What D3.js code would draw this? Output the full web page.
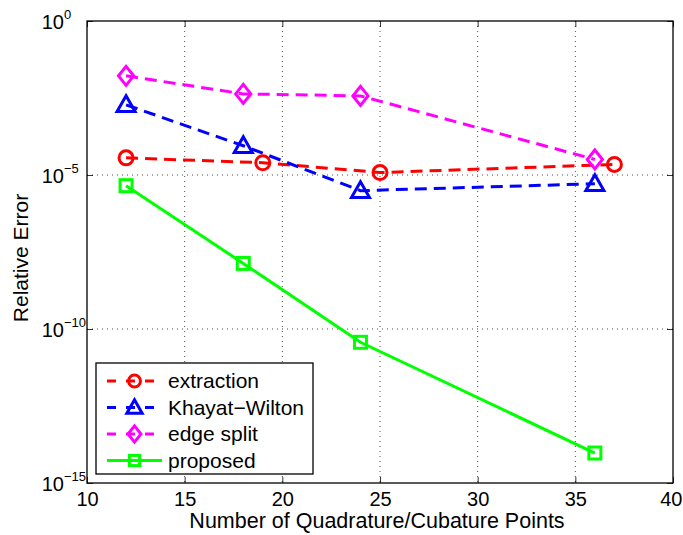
<!DOCTYPE html>
<html><head><meta charset="utf-8">
<script src="https://cdn.jsdelivr.net/npm/d3@7"></script>
<style>body{margin:0;background:#fff}svg{display:block}text{font-family:"Liberation Sans",Arial,sans-serif}</style>
</head><body>
<svg id="c" width="683" height="535"></svg>
<script>
const xExtraction = [12, 19, 25, 37];
const yExtraction = [3.6e-5, 2.5e-5, 1.2e-5, 2.2e-5];
const xKhayat = [12, 18, 24, 36];
const yKhayat = [1.9e-3, 8.9e-5, 3.1e-6, 5.2e-6];
const xEdge = [12, 18, 24, 36];
const yEdge = [1.66e-2, 4.3e-3, 3.7e-3, 3.2e-5];
const xProposed = [12, 18, 24, 36];
const yProposed = [4.5e-6, 1.35e-8, 3.7e-11, 9.4e-15];
const seriesNames = ["extraction", "Khayat\u2212Wilton", "edge split", "proposed"];
const xTicks = [10, 15, 20, 25, 30, 35, 40];
const yTicks = [1e0, 1e-5, 1e-10, 1e-15];
const yTickExp = ["0", "\u22125", "\u221210", "\u221215"];

const L = 87, T = 21, R = 673, B = 483;
const svg = d3.select("#c");
const x = d3.scaleLinear().domain([10, 40]).range([L, R]);
const y = d3.scaleLog().domain([1e-15, 1]).range([B, T]);

// grid
const g = svg.append("g");
xTicks.filter(t => t > 10 && t < 40).forEach(t => {
  g.append("line").attr("x1", x(t)).attr("x2", x(t)).attr("y1", T).attr("y2", B)
    .attr("stroke", "#000").attr("stroke-width", 0.7).attr("stroke-dasharray", "1,4");
});
yTicks.filter(t => t < 1 && t > 1e-15).forEach(t => {
  g.append("line").attr("x1", L).attr("x2", R).attr("y1", y(t)).attr("y2", y(t))
    .attr("stroke", "#000").attr("stroke-width", 0.7).attr("stroke-dasharray", "1,4");
});

// axes (ticks inward)
const xa = svg.append("g").attr("transform", `translate(0,${B})`)
  .call(d3.axisBottom(x).tickValues(xTicks).tickSize(-6).tickFormat(d3.format("d")));
const xa2 = svg.append("g").attr("transform", `translate(0,${T})`)
  .call(d3.axisTop(x).tickValues(xTicks).tickSize(-6).tickFormat(""));
const ya = svg.append("g").attr("transform", `translate(${L},0)`)
  .call(d3.axisLeft(y).tickValues(yTicks).tickSize(-6).tickFormat(""));
const ya2 = svg.append("g").attr("transform", `translate(${R},0)`)
  .call(d3.axisRight(y).tickValues(yTicks).tickSize(-6).tickFormat(""));
[xa, xa2, ya, ya2].forEach(a => {
  a.selectAll(".domain").remove();
  a.selectAll("line").attr("stroke", "#000").attr("stroke-width", 0.8);
});
xa.selectAll("text").attr("font-size", 20).attr("fill", "#000").attr("dy", null).attr("y", 23)
  .filter(d => d === 40).attr("text-anchor", "end").attr("x", 682 - R);
svg.append("rect").attr("x", L).attr("y", T).attr("width", R - L).attr("height", B - T)
  .attr("fill", "none").attr("stroke", "#000").attr("stroke-width", 1.3);

// y tick labels with superscripts
yTicks.forEach((t, i) => {
  svg.append("text").attr("x", 64).attr("y", y(t) + 8)
    .attr("text-anchor", "end").attr("font-size", 20).attr("fill", "#000").text("10");
  svg.append("text").attr("x", 64).attr("y", y(t) - 2)
    .attr("font-size", 13).attr("fill", "#000").text(yTickExp[i]);
});

// labels
svg.append("text").attr("x", (L + R) / 2 - 3).attr("y", 528).attr("text-anchor", "middle")
  .attr("font-size", 21.5).attr("fill", "#000").text("Number of Quadrature/Cubature Points");
svg.append("text").attr("transform", `translate(28,${(T + B) / 2 + 6}) rotate(-90)`)
  .attr("text-anchor", "middle").attr("font-size", 21).attr("fill", "#000").text("Relative Error");

// series
const series = [
  {xs: xExtraction, ys: yExtraction, color: "#ff0000", dash: "12,7", marker: "circle"},
  {xs: xKhayat, ys: yKhayat, color: "#0000ff", dash: "12,7", marker: "triangle"},
  {xs: xEdge, ys: yEdge, color: "#ff00ff", dash: "12,7", marker: "diamond"},
  {xs: xProposed, ys: yProposed, color: "#00ff00", dash: null, marker: "square"}
];
function drawMarker(sel, type, cx, cy, color, s) {
  if (type === "circle") {
    sel.append("circle").attr("cx", cx).attr("cy", cy).attr("r", 7 * s)
      .attr("fill", "none").attr("stroke", color).attr("stroke-width", 3);
  } else if (type === "triangle") {
    const h = 9 * s;
    sel.append("path").attr("d", `M${cx},${cy - h}L${cx + h},${cy + h * 0.75}L${cx - h},${cy + h * 0.75}Z`)
      .attr("fill", "none").attr("stroke", color).attr("stroke-width", 3);
  } else if (type === "diamond") {
    const h = 9.5 * s;
    sel.append("path").attr("d", `M${cx},${cy - h}L${cx + h * 0.8},${cy}L${cx},${cy + h}L${cx - h * 0.8},${cy}Z`)
      .attr("fill", "none").attr("stroke", color).attr("stroke-width", 3);
  } else {
    const h = 6 * s;
    sel.append("rect").attr("x", cx - h).attr("y", cy - h).attr("width", 2 * h).attr("height", 2 * h)
      .attr("fill", "none").attr("stroke", color).attr("stroke-width", 3);
  }
}
const line = d3.line().x(d => x(d[0])).y(d => y(d[1]));
series.forEach(s => {
  const pts = s.xs.map((v, i) => [v, s.ys[i]]);
  svg.append("path").attr("d", line(pts)).attr("fill", "none").attr("stroke", s.color)
    .attr("stroke-width", 3).attr("stroke-dasharray", s.dash);
  pts.forEach(p => drawMarker(svg, s.marker, x(p[0]), y(p[1]), s.color, 1));
});

// legend
const lg = svg.append("g");
lg.append("rect").attr("x", 96).attr("y", 363).attr("width", 217).attr("height", 111)
  .attr("fill", "#fff").attr("stroke", "#000").attr("stroke-width", 1.3);
series.forEach((s, i) => {
  const ly = 381 + i * 26.5;
  lg.append("line").attr("x1", 107).attr("x2", 162).attr("y1", ly).attr("y2", ly)
    .attr("stroke", s.color).attr("stroke-width", 3).attr("stroke-dasharray", s.dash ? "9,10" : null);
  drawMarker(lg, s.marker, 134.5, ly, s.color, 0.85);
  lg.append("text").attr("x", 168).attr("y", ly + 7).attr("font-size", 21).attr("fill", "#000").text(seriesNames[i]);
});
</script>
</body></html>
